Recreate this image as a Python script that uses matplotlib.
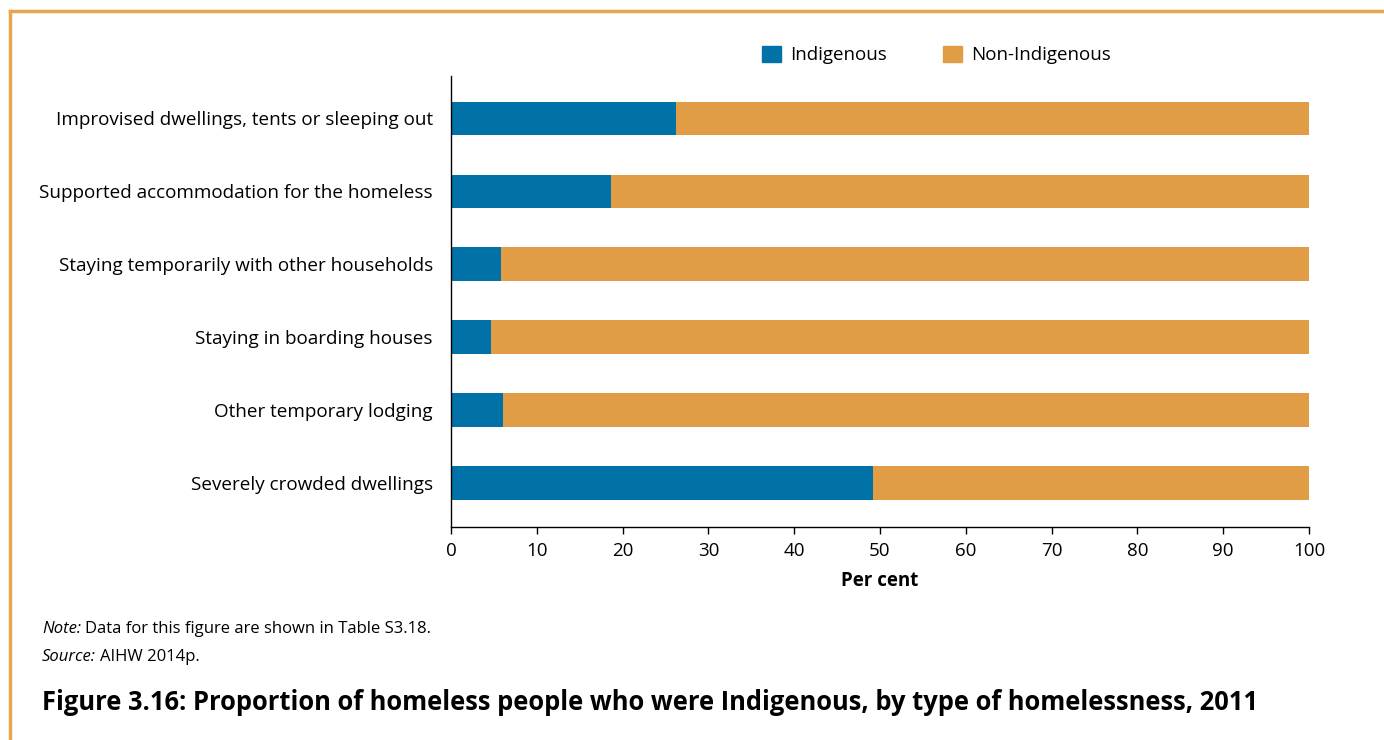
import numpy as np
import matplotlib.pyplot as plt
from matplotlib.lines import Line2D
from matplotlib.patches import Patch

plt.rcParams['font.family'] = ['Open Sans', 'DejaVu Sans']

categories = [
    'Improvised dwellings, tents or sleeping out',
    'Supported accommodation for the homeless',
    'Staying temporarily with other households',
    'Staying in boarding houses',
    'Other temporary lodging',
    'Severely crowded dwellings',
]
indigenous = [26.2, 18.6, 5.8, 4.7, 6.1, 49.2]
non_indigenous = [100 - v for v in indigenous]
xticks = [0, 10, 20, 30, 40, 50, 60, 70, 80, 90, 100]

blue = '#0072A8'
orange = '#E09D45'
frame = '#E8A64E'

W, H = 1384, 740
fig = plt.figure(figsize=(W / 100, H / 100), dpi=100)
ax = fig.add_axes([451 / W, 1 - 527 / H, 858 / W, 451 / H])

y = np.arange(len(categories))
ax.barh(y, indigenous, height=0.46, color=blue, label='Indigenous')
ax.barh(y, non_indigenous, left=indigenous, height=0.46, color=orange, label='Non-Indigenous')

ax.set_xlim(0, 100)
ax.set_ylim(len(categories) - 0.4, -0.58)
ax.set_yticks(y)
ax.set_yticklabels(categories, fontsize=13.6)
ax.set_xticks(xticks)
ax.set_xticklabels([str(t) for t in xticks], fontsize=13.5)
ax.tick_params(axis='y', length=0, pad=13)
ax.tick_params(axis='x', length=5, width=1, pad=6, direction='out')
ax.spines['top'].set_visible(False)
ax.spines['right'].set_visible(False)
ax.spines['left'].set_linewidth(1)
ax.spines['bottom'].set_linewidth(1)
ax.set_xlabel('Per cent', fontsize=13.5, fontweight='bold', labelpad=8)

handles = [Patch(color=blue), Patch(color=orange)]
fig.legend(handles, ['Indigenous', 'Non-Indigenous'], loc='center left',
           bbox_to_anchor=(745 / W, 1 - 55 / H), ncol=2, frameon=False,
           fontsize=13.5, handlelength=1.0, handleheight=1.0, handletextpad=0.5,
           columnspacing=3.0)

# notes: italic lead-in followed by plain text
renderer = fig.canvas.get_renderer()
for lead, rest, ypix in [('Note:', 'Data for this figure are shown in Table S3.18.', 629),
                         ('Source:', 'AIHW 2014p.', 657)]:
    t = fig.text(42 / W, 1 - ypix / H, lead, fontsize=12, va='center', style='italic')
    bb = t.get_window_extent(renderer)
    fig.text((bb.x1 + 4) / W, 1 - ypix / H, rest, fontsize=12, va='center')

fig.text(42 / W, 1 - 703 / H,
         'Figure 3.16: Proportion of homeless people who were Indigenous, by type of homelessness, 2011',
         fontsize=18.4, fontweight='bold', va='center')

fig.add_artist(Line2D([10 / W, 1], [1 - 11 / H, 1 - 11 / H], color=frame, lw=2.5,
                      transform=fig.transFigure))
fig.add_artist(Line2D([10 / W, 10 / W], [0, 1 - 11 / H], color=frame, lw=2.5,
                      transform=fig.transFigure))

fig.savefig('out.png', dpi=100)
